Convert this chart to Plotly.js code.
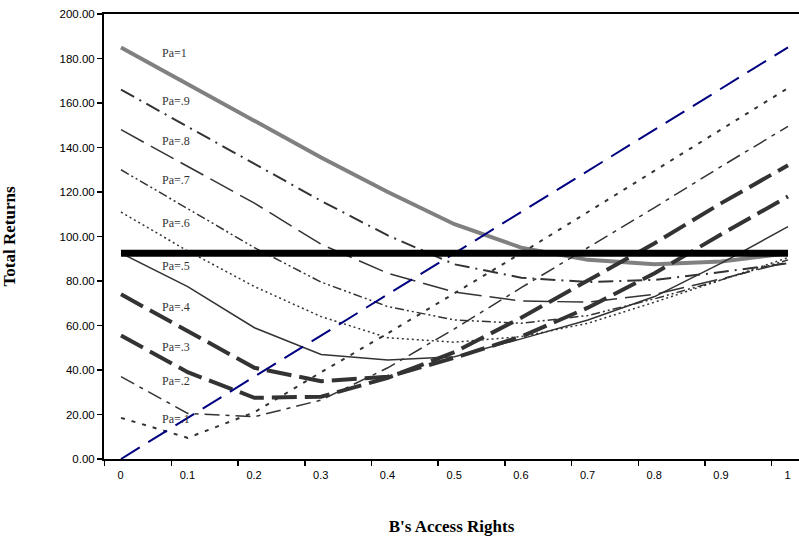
<!DOCTYPE html>
<html>
<head>
<meta charset="utf-8">
<script src="https://cdn.plot.ly/plotly-3.0.1.min.js"></script>
<style>
  html, body { margin: 0; padding: 0; background: #fff; overflow: hidden; }
  #chart { width: 799px; height: 538px; }
</style>
</head>
<body>
<div id="chart"></div>
<script>
// B's access rights (categories) and their tick labels
const accessRights = [0, 0.1, 0.2, 0.3, 0.4, 0.5, 0.6, 0.7, 0.8, 0.9, 1];
const tickLabels = ['0', '0.1', '0.2', '0.3', '0.4', '0.5', '0.6', '0.7', '0.8', '0.9', '1'];

// Total returns for each value of Pa
const pa10 = [185, 168.5, 152, 135.5, 120, 105.5, 95, 89.5, 87.5, 88.8, 92.5];
const pa09 = [166, 149.3, 132.6, 116, 100.5, 87.5, 81.5, 79.5, 80.5, 84, 88];
const pa08 = [148, 131.5, 115, 96.5, 83.5, 75, 71, 70.5, 74, 81, 88.5];
const pa07 = [130, 112.5, 95, 79.5, 68.5, 62.5, 61, 64.5, 72, 80.5, 89.5];
const pa06 = [111, 93.5, 77.5, 64, 54.5, 52.5, 55, 61, 70.5, 80.5, 90.5];
const pa05 = [92.5, 77.5, 59, 47, 44.5, 46, 54, 62.5, 73, 88, 104.4];
const pa04 = [74, 57.5, 41, 35, 37, 45.5, 55, 68, 83.5, 101, 118];
const pa03 = [55.5, 39, 27.5, 28, 36.5, 48, 63.5, 80.5, 97, 115, 132];
const pa02 = [37, 20.5, 19, 26.5, 41, 58.5, 77, 95, 113, 131.5, 149.5];
const pa01 = [18.5, 9.5, 21, 39, 56.5, 74.5, 92.5, 111, 129.5, 148, 166.7];
const pa00 = [0, 18.5, 37, 55.5, 74, 92.5, 111, 129.5, 148, 166.5, 185];
const reference = [92.5, 92.5, 92.5, 92.5, 92.5, 92.5, 92.5, 92.5, 92.5, 92.5, 92.5];

const seriesNames = ['Pa=1', 'Pa=.9', 'Pa=.8', 'Pa=.7', 'Pa=.6', 'Pa=.5', 'Pa=.4', 'Pa=.3', 'Pa=.2', 'Pa=.1'];
const seriesValues = [pa10, pa09, pa08, pa07, pa06, pa05, pa04, pa03, pa02, pa01];

// styles (kept separate from the data)
const dark = '#333333';
const styles = [
  {color: '#808080', width: 4, dash: 'solid'},
  {color: dark, width: 2, dash: '15px,6px,2px,6px'},
  {color: dark, width: 1.5, dash: '26px,8px'},
  {color: dark, width: 1.5, dash: '9px,3px,2px,3px,2px,3px'},
  {color: dark, width: 1.5, dash: '2px,3px'},
  {color: dark, width: 1.5, dash: 'solid'},
  {color: dark, width: 4, dash: '25px,8px'},
  {color: dark, width: 4, dash: '25px,8px'},
  {color: dark, width: 1.5, dash: '15px,6px,4px,6px'},
  {color: dark, width: 2, dash: '4px,7px'}
];
const labelY = [182.5, 161, 143, 125.5, 106, 86.7, 68.3, 50.3, 35.1, 18];

const traces = seriesValues.map((vals, i) => ({
  x: accessRights, y: vals, type: 'scatter', mode: 'lines', name: seriesNames[i],
  line: {color: styles[i].color, width: styles[i].width, dash: styles[i].dash},
  hoverinfo: 'skip'
}));
traces.push({
  x: accessRights, y: pa00, type: 'scatter', mode: 'lines', name: 'Pa=0',
  line: {color: '#000080', width: 2, dash: '22px,10px'}, hoverinfo: 'skip'
});
traces.push({
  x: accessRights, y: reference, type: 'scatter', mode: 'lines', name: 'Reference',
  line: {color: '#000000', width: 7, dash: 'solid'}, hoverinfo: 'skip'
});

const tickPositions = accessRights.map(v => v - 0.0245);

const annotations = seriesNames.map((n, i) => ({
  text: n, x: 0.058, y: labelY[i], xref: 'x', yref: 'y',
  xanchor: 'left', yanchor: 'middle', showarrow: false,
  font: {family: 'Liberation Serif', size: 12, color: '#333333'}
}));

const layout = {
  width: 799, height: 538,
  margin: {l: 104, r: 0, t: 14, b: 79, pad: 0},
  paper_bgcolor: '#ffffff', plot_bgcolor: '#ffffff',
  showlegend: false,
  xaxis: {
    range: [-0.0255, 1.0165],
    tickmode: 'array', tickvals: tickPositions, ticktext: tickLabels,
    ticks: 'outside', ticklen: 5, tickwidth: 1.5, tickcolor: '#000',
    ticklabelshift: 16,
    showline: true, linecolor: '#000', linewidth: 2, mirror: true,
    showgrid: false, zeroline: false,
    tickfont: {family: 'Liberation Sans', size: 11, color: '#000'},
    title: {text: "<b>B's Access Rights</b>", standoff: 40,
            font: {family: 'Liberation Serif', size: 17, color: '#000'}}
  },
  yaxis: {
    range: [0, 200], tick0: 0, dtick: 20, tickformat: '.2f',
    ticks: 'outside', ticklen: 5, tickwidth: 1.5, tickcolor: '#000',
    showline: true, linecolor: '#000', linewidth: 2,
    showgrid: false, zeroline: false,
    tickfont: {family: 'Liberation Sans', size: 11.5, color: '#000'},
    title: {text: '<b>Total Returns</b>', standoff: 40,
            font: {family: 'Liberation Serif', size: 17, color: '#000'}}
  },
  annotations: annotations
};

Plotly.newPlot('chart', traces, layout, {displayModeBar: false, staticPlot: true});
</script>
</body>
</html>
